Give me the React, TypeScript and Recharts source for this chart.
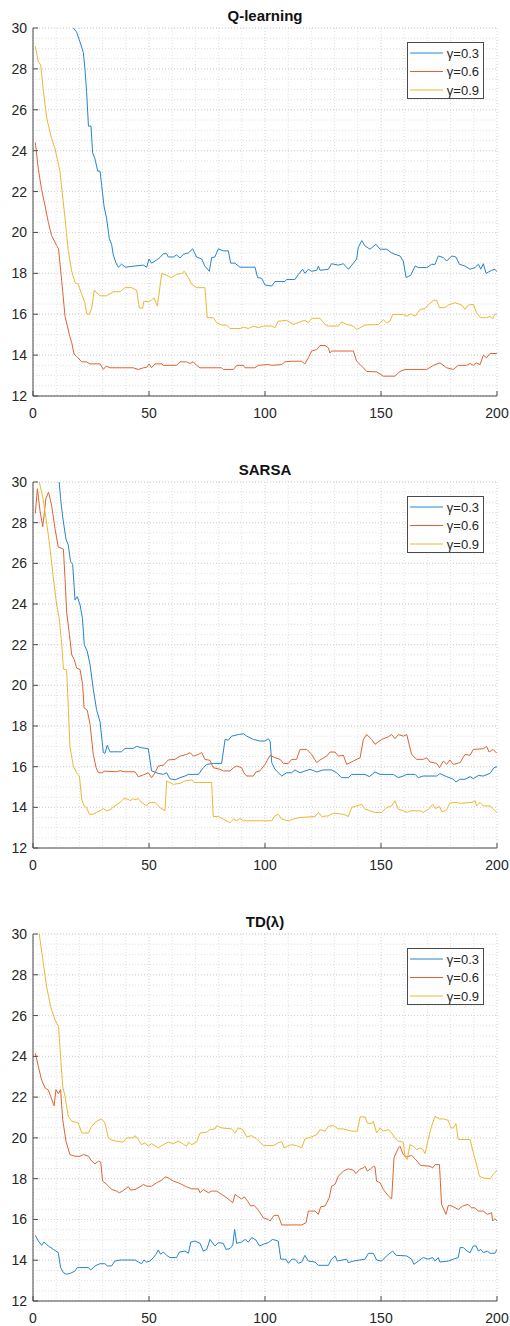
import React from 'react';
import { LineChart, Line, XAxis, YAxis, CartesianGrid } from 'recharts';

type Pt = [number, number];

// Q-learning, episode vs. steps (moving average)
const qLearning03: Pt[] = [
  [1, 33.6], [10, 31.6], [16, 30.3], [17.4, 30], [18.8, 29.8], [20.3, 29.3], [21.7, 28.8], [22.4, 28.0], [23.1, 26.9],
  [23.9, 25.2], [25, 25.2], [25.7, 23.9], [26.7, 23.6], [27.9, 23.0], [28.9, 23.0], [29.6, 22.3], [30.6, 21.3],
  [31.7, 20.7], [32.9, 19.7], [33.9, 19.4], [34.6, 18.9], [35.8, 18.5], [36.8, 18.3], [38.2, 18.45], [39.7, 18.3],
  [43.2, 18.35], [47.6, 18.4], [49, 18.3], [50, 18.7], [51.1, 18.5], [53.3, 18.65], [54.7, 18.77], [56.2, 18.96],
  [57.6, 18.96], [58.3, 18.8], [60.5, 18.8], [61.9, 18.9], [63.4, 18.75], [64.8, 18.93], [67, 19.0], [68.8, 19.2],
  [70.5, 18.8], [72.7, 18.7], [74.1, 18.35], [76, 18.1], [77, 18.77], [78.4, 18.8], [79.9, 19.2], [82, 19.1],
  [84.2, 19.1], [85.2, 18.5], [87, 18.5], [89.2, 18.3], [95.7, 18.3], [96.8, 17.8], [98.6, 17.75], [100, 17.43],
  [102.9, 17.38], [104.3, 17.6], [108.6, 17.6], [109.3, 17.7], [112.9, 17.7], [114.4, 17.95], [116.2, 18.2],
  [117.2, 18.0], [118.7, 18.2], [120.1, 18.1], [122.3, 18.15], [123, 18.35], [123.7, 18.15], [127.3, 18.2],
  [128.7, 18.47], [131.6, 18.4], [133.8, 18.47], [136, 18.2], [138.1, 18.5], [139.5, 18.7], [140.2, 19.26],
  [141.7, 19.6], [143.1, 19.34], [145.3, 19.18], [147.8, 19.42], [149.6, 19.18], [152.4, 19.18], [154.6, 19.0],
  [156, 18.93], [158.2, 18.85], [159.6, 18.6], [160.8, 17.8], [162.8, 17.9], [164.7, 18.36], [166.1, 18.28],
  [169.7, 18.28], [171.8, 18.44], [173.3, 18.44], [174.7, 18.85], [176.9, 18.77], [178.3, 18.6], [180.5, 18.85],
  [182.3, 18.8], [183.8, 18.44], [186.2, 18.36], [188.4, 18.2], [190.5, 18.28], [192, 18.44], [193, 18.2],
  [194.1, 18.47], [195.3, 18.0], [197.7, 18.15], [199.1, 18.2], [200, 18.08],
];
const qLearning06: Pt[] = [
  [1, 24.4], [2.3, 23.1], [3.7, 22.1], [5.2, 21.3], [6.6, 20.5], [8, 19.85], [10.2, 19.36], [11, 19.2], [12.4, 17.6],
  [13.8, 15.9], [15.9, 14.9], [16.7, 14.6], [17.7, 14.05], [19.1, 13.9], [21, 13.67], [23.1, 13.67], [24.6, 13.57],
  [28.9, 13.57], [30.3, 13.3], [31.5, 13.46], [33.2, 13.38], [43.2, 13.38], [45.4, 13.3], [47.6, 13.38], [49, 13.4],
  [50.1, 13.57], [51.1, 13.38], [52.6, 13.57], [55.5, 13.57], [56.2, 13.5], [61.9, 13.5], [63.4, 13.67], [66.2, 13.67],
  [67.7, 13.59], [69.1, 13.67], [70.5, 13.5], [72, 13.38], [81.3, 13.38], [82, 13.3], [86.4, 13.3], [87.8, 13.5],
  [90.7, 13.5], [91.4, 13.38], [95.7, 13.38], [97.1, 13.5], [101.4, 13.54], [102.9, 13.5], [107.2, 13.54],
  [108.6, 13.67], [111.5, 13.7], [115.8, 13.7], [117.2, 13.57], [118.7, 13.87], [120.1, 14.2], [122.3, 14.27],
  [123.7, 14.47], [125.9, 14.47], [127.3, 14.36], [128, 14.1], [128.7, 14.2], [138.1, 14.2], [139.5, 13.7],
  [141, 13.54], [142.4, 13.38], [143.8, 13.2], [148.1, 13.18], [151, 12.97], [156, 12.97], [158.2, 13.2],
  [160.3, 13.3], [169.7, 13.3], [172.6, 13.5], [175.4, 13.62], [178.3, 13.38], [181.2, 13.3], [183.3, 13.5],
  [186.9, 13.5], [188.4, 13.59], [189.8, 13.5], [191, 13.62], [192.7, 13.54], [194.1, 14.0], [195.5, 13.87],
  [197, 14.08], [200, 14.08],
];
const qLearning09: Pt[] = [
  [1, 29.1], [2.3, 28.35], [3.3, 28.2], [4.5, 26.9], [5.9, 25.6], [8, 24.6], [9.5, 24.1], [11.6, 23.0], [13.8, 20.7],
  [15.2, 19.1], [16.7, 18.1], [18.1, 17.54], [19.5, 17.46], [21, 16.97], [22.4, 16.56], [23.1, 16.02], [24.3, 15.99],
  [25.3, 16.3], [26.4, 17.17], [28.9, 16.9], [31.8, 16.9], [34.6, 17.1], [37.5, 17.1], [39.7, 17.3], [42.5, 17.3],
  [44.7, 17.17], [45.8, 16.3], [47.3, 16.3], [47.8, 16.64], [49.7, 16.6], [51.1, 16.7], [52.2, 16.8], [53.6, 16.4],
  [55.5, 18.0], [57.6, 17.9], [59.8, 17.79], [61.9, 17.95], [64.1, 18.0], [65.2, 18.1], [67, 17.79], [68.4, 17.46],
  [70.5, 17.3], [74.1, 17.3], [75.1, 15.83], [77.7, 15.83], [79.2, 15.58], [81.3, 15.47], [83.5, 15.47], [84.9, 15.3],
  [89.2, 15.3], [90.7, 15.37], [92.8, 15.3], [95, 15.42], [97.1, 15.34], [99.3, 15.42], [102.9, 15.42], [104.3, 15.34],
  [105.7, 15.66], [109.3, 15.7], [112.2, 15.5], [115.1, 15.63], [117.2, 15.7], [118.7, 15.58], [120.1, 15.8],
  [123.7, 15.8], [125.9, 15.5], [127.3, 15.42], [131.6, 15.42], [133, 15.63], [135.2, 15.5], [138.1, 15.42],
  [139.5, 15.25], [141, 15.34], [143.1, 15.47], [148.9, 15.5], [151, 15.74], [152.4, 15.58], [153.9, 15.66],
  [155, 15.99], [159.6, 15.99], [161.1, 15.9], [162.8, 16.02], [164.7, 15.9], [166.9, 16.24], [169, 16.28],
  [170.5, 16.48], [172.6, 16.68], [174, 16.68], [175.2, 16.32], [177.6, 16.32], [179, 16.45], [181.9, 16.56],
  [184.8, 16.45], [186.2, 16.24], [187.6, 16.45], [189.8, 16.48], [191.2, 16.07], [193, 15.83], [195.5, 15.83],
  [197, 15.9], [198.1, 15.78], [199.1, 16.0], [200, 16.0],
];

// SARSA
const sarsa03: Pt[] = [
  [1, 34.8], [6, 32.4], [11.3, 30], [11.9, 29.18], [12.8, 28.28], [14.2, 27.2], [15.2, 26.9], [16.2, 26.08],
  [17.1, 25.95], [18.1, 24.2], [19.1, 24.36], [20.3, 23.95], [21.3, 23.3], [22.1, 22.0], [23.4, 21.67], [24.6, 21.0],
  [26, 19.8], [27.4, 18.8], [28.9, 18.2], [30.3, 16.7], [31, 16.65], [32, 17.05], [33.2, 16.73], [38.2, 16.73],
  [39.6, 16.9], [43.2, 16.9], [44.7, 17.0], [46.8, 16.93], [49.7, 16.88], [51.1, 15.79], [54, 15.67], [56.2, 15.62],
  [57.6, 15.7], [59, 15.41], [61.2, 15.35], [63.4, 15.46], [65.5, 15.54], [67, 15.62], [71.3, 15.62], [73.4, 15.95],
  [74.9, 16.11], [77.7, 16.16], [81.3, 16.16], [82.8, 17.34], [84.2, 17.3], [85.6, 17.5], [88.5, 17.58],
  [90.7, 17.62], [92.1, 17.5], [95, 17.34], [97.8, 17.26], [100, 17.26], [101.4, 17.37], [102.2, 17.26],
  [102.9, 16.2], [104.3, 15.87], [107.2, 15.54], [109.3, 15.7], [111.5, 15.7], [112.9, 15.84], [115.1, 15.7],
  [119.4, 15.87], [122.3, 15.74], [125.1, 15.84], [128.7, 15.84], [130.9, 15.7], [133, 15.46], [135.9, 15.46],
  [137.4, 15.62], [143.1, 15.62], [145, 15.51], [147.4, 15.74], [149.6, 15.62], [155.3, 15.62], [157.5, 15.46],
  [159.6, 15.54], [161.1, 15.62], [164.7, 15.62], [166.1, 15.46], [168.2, 15.54], [174, 15.54], [175.4, 15.66],
  [178.3, 15.51], [181.2, 15.38], [182.3, 15.25], [184.1, 15.38], [186.2, 15.38], [188.4, 15.51], [189.8, 15.41],
  [192, 15.57], [194.1, 15.54], [197, 15.67], [198.7, 15.95], [200, 16.0],
];
const sarsa06: Pt[] = [
  [1, 28.45], [1.9, 29.67], [3, 28.6], [4.2, 27.8], [5.6, 29.2], [6.7, 29.5], [8, 28.86], [9.5, 27.7], [10.9, 26.8],
  [13.1, 26.7], [13.8, 25.26], [14.5, 23.6], [15.7, 22.5], [16.7, 21.5], [17.8, 21.26], [18.8, 20.85], [20.3, 20.77],
  [21.4, 20.03], [22, 18.9], [23.4, 18.77], [24.6, 18.07], [26, 16.6], [27.2, 15.95], [28.2, 15.7], [29.6, 15.7],
  [31, 15.78], [36, 15.75], [37.5, 15.8], [39.6, 15.75], [43.9, 15.75], [45.4, 15.5], [47.6, 15.6], [49.7, 15.7],
  [51.1, 15.46], [52.6, 15.7], [54, 16.03], [56.2, 16.07], [58.3, 16.33], [61.2, 16.36], [63.4, 16.52], [66.2, 16.6],
  [67.7, 16.69], [69.1, 16.52], [71.3, 16.6], [72.7, 16.69], [74.1, 16.36], [76.3, 16.31], [77.7, 15.95],
  [80.6, 15.87], [82, 15.79], [84.9, 15.79], [86.4, 15.95], [87.8, 16.03], [89.9, 15.95], [90.9, 15.7], [92.1, 15.54],
  [95, 15.54], [96.1, 15.74], [97.8, 15.79], [100, 16.11], [102.2, 16.56], [104.3, 16.44], [106.5, 16.36],
  [107.9, 16.16], [110.1, 16.16], [111.5, 16.36], [113.6, 16.36], [115.1, 16.85], [118, 16.85], [120.1, 16.6],
  [122.3, 16.2], [123.7, 16.33], [126.6, 16.52], [128, 16.72], [130.2, 16.72], [131.6, 16.52], [133.8, 16.56],
  [135.2, 16.11], [138.1, 16.28], [141, 16.44], [142.4, 17.34], [143.8, 17.58], [146, 17.34], [147.4, 17.1],
  [150.3, 17.34], [153.2, 17.47], [154.6, 17.58], [156, 17.37], [157.5, 17.58], [159.6, 17.5], [161.1, 17.58],
  [163.2, 16.6], [165.4, 16.36], [168.2, 16.36], [169.7, 16.44], [171.1, 16.23], [174, 16.16], [175.2, 15.95],
  [176.9, 16.28], [178.3, 16.11], [179.7, 16.33], [181.2, 16.11], [184.1, 16.2], [186.2, 16.6], [188.4, 16.56],
  [189.8, 16.85], [194.1, 16.88], [195.5, 17.0], [196.6, 16.72], [198.3, 16.85], [200, 16.65],
];
const sarsa09: Pt[] = [
  [1, 31.4], [2.7, 30], [4.2, 29.26], [5.6, 28.2], [7, 27.06], [8.8, 25.26], [10.2, 23.95], [11.3, 23.3], [12.4, 22.0],
  [13.1, 20.8], [14.5, 20.77], [15.2, 18.97], [15.9, 17.0], [17.4, 16.03], [18.8, 15.7], [20, 15.54], [21, 14.4],
  [22, 14.07], [23.1, 13.99], [24.3, 13.66], [26, 13.66], [27.4, 13.75], [28.9, 13.83], [30.3, 13.94], [31.8, 13.83],
  [33.2, 13.88], [35.3, 14.07], [37.5, 14.24], [39.2, 14.43], [41.1, 14.4], [41.8, 14.32], [43.2, 14.43], [44, 14.37],
  [45.4, 14.43], [46.8, 14.24], [49, 14.07], [50.1, 14.24], [52.6, 14.24], [54.7, 13.99], [56.9, 13.83], [57.6, 15.3],
  [59, 15.22], [60.5, 15.13], [63.4, 15.18], [65.5, 15.3], [68.4, 15.35], [69.8, 15.22], [77, 15.22], [77.7, 13.55],
  [79.9, 13.55], [82, 13.42], [84.9, 13.25], [86.4, 13.42], [87.8, 13.34], [89.2, 13.45], [90.7, 13.34],
  [102.9, 13.34], [104.3, 13.58], [105.7, 13.66], [107.2, 13.42], [110.1, 13.34], [112.2, 13.42], [115.1, 13.5],
  [121.6, 13.55], [123, 13.75], [124.4, 13.55], [127.3, 13.58], [129.5, 13.71], [133.8, 13.66], [135.9, 13.55],
  [137.4, 13.99], [139.5, 14.07], [141.7, 14.15], [143.1, 13.91], [145.3, 13.83], [147.4, 13.75], [150.3, 13.75],
  [152.4, 13.99], [154.6, 14.07], [156, 14.32], [157.5, 13.91], [159.6, 13.83], [161.1, 13.75], [162.8, 13.83],
  [166.9, 13.83], [168.2, 13.75], [170.5, 13.91], [172.3, 14.15], [173.4, 13.94], [175.2, 14.04], [176.3, 13.78],
  [178.3, 13.88], [179.7, 14.2], [181.9, 14.24], [184.1, 14.2], [189.2, 14.24], [190.6, 14.32], [191.2, 14.07],
  [192.7, 14.24], [194.1, 14.07], [197, 14.07], [199.1, 13.83], [200, 13.75],
];

// TD(lambda)
const td03: Pt[] = [
  [1, 15.22], [2.3, 14.94], [3.7, 14.73], [4.7, 14.89], [6.6, 14.7], [8.8, 14.53], [10.9, 14.37], [11.9, 13.64],
  [13.1, 13.39], [14.5, 13.31], [16.2, 13.36], [18.1, 13.47], [19.1, 13.64], [23.9, 13.64], [24.9, 13.52],
  [26.7, 13.72], [28.9, 13.83], [31, 13.83], [32, 13.72], [33.9, 13.72], [35.3, 13.96], [37.5, 14.01], [44, 14.01],
  [45.4, 13.91], [46.8, 13.83], [47.8, 14.01], [49, 13.91], [50.4, 13.96], [51.9, 14.13], [53, 14.29], [54, 14.5],
  [55, 14.29], [56.2, 14.4], [57.6, 14.24], [59, 14.13], [61.9, 14.13], [63.1, 14.4], [65.5, 14.45], [67, 14.34],
  [68, 14.89], [69.8, 14.94], [72, 14.83], [73.4, 14.45], [74.9, 14.53], [76.3, 15.02], [78.4, 14.7], [79.9, 14.86],
  [82, 14.83], [83.2, 14.53], [84.9, 14.57], [86.1, 14.73], [86.9, 15.51], [87.8, 14.83], [89.9, 14.89],
  [91.4, 15.02], [92.8, 14.89], [94.3, 15.11], [96.1, 14.99], [97.6, 14.7], [99.3, 14.78], [101.4, 14.86],
  [103.3, 15.02], [105.7, 14.94], [106.8, 14.05], [109, 14.05], [110.1, 13.85], [111.5, 14.05], [112.9, 14.05],
  [114.4, 13.85], [115.8, 13.91], [117.2, 14.24], [118.7, 13.96], [121.6, 13.91], [123, 13.75], [127.3, 13.75],
  [128.7, 14.05], [130.2, 14.21], [131.2, 13.96], [135.2, 14.05], [135.9, 13.88], [138.1, 13.96], [143.1, 14.05],
  [144.6, 14.34], [146.7, 14.34], [148.1, 14.01], [150.3, 13.96], [152.4, 14.21], [155, 14.45], [156.5, 14.24],
  [161.1, 14.21], [163.2, 14.05], [164.2, 13.8], [166.1, 13.96], [168.2, 14.13], [170.3, 14.05], [172.3, 14.13],
  [173.3, 13.96], [174.7, 14.13], [175.4, 13.91], [179, 13.96], [181.2, 14.05], [183.3, 14.13], [184.1, 14.62],
  [185.5, 14.62], [187, 14.45], [188.4, 14.37], [189.8, 14.7], [191, 14.7], [192, 14.45], [193, 14.53],
  [194.1, 14.37], [195.8, 14.45], [197, 14.34], [199.1, 14.34], [200, 14.53],
];
const td06: Pt[] = [
  [1, 24.15], [2.3, 23.5], [3.7, 22.84], [5.2, 22.45], [6.6, 22.35], [7.6, 22.03], [9.1, 21.58], [9.9, 22.37],
  [10.9, 22.17], [11.9, 22.37], [12.8, 20.9], [14.2, 19.84], [15.9, 19.18], [18.1, 19.1], [20.3, 19.1], [21.7, 19.18],
  [23.9, 19.1], [25.3, 18.86], [26.7, 18.73], [28.2, 18.86], [29.2, 18.81], [30, 17.88], [31.8, 17.72], [33.9, 17.47],
  [36, 17.39], [37.2, 17.31], [38.6, 17.39], [40.4, 17.55], [41.1, 17.6], [42.1, 17.44], [44, 17.47], [46.1, 17.6],
  [47.6, 17.72], [49, 17.63], [51.1, 17.63], [53.3, 17.8], [55.5, 17.93], [56.9, 18.09], [58.3, 18.04], [60.5, 17.88],
  [62.6, 17.8], [64.1, 17.72], [66.2, 17.6], [68.4, 17.5], [71.3, 17.5], [72, 17.31], [73.4, 17.47], [75.6, 17.31],
  [77, 17.39], [79.2, 17.39], [81.3, 17.23], [83.5, 17.06], [86.1, 16.82], [87.1, 17.23], [88.5, 17.11],
  [89.9, 17.01], [91.1, 17.11], [92.8, 16.85], [93.8, 16.66], [95.3, 16.69], [97.1, 16.46], [99.3, 16.08],
  [101.4, 16.0], [102.2, 15.92], [103.9, 16.2], [105.7, 16.2], [107.2, 15.73], [115.8, 15.73], [117.7, 15.84],
  [118.7, 16.41], [121.6, 16.41], [123, 16.25], [124, 16.62], [125.9, 16.66], [127.7, 17.06], [128.7, 17.63],
  [130.2, 17.72], [131.6, 18.12], [133.8, 18.37], [135.9, 18.48], [138.1, 18.42], [139.2, 18.25], [140.7, 18.45],
  [142.4, 18.53], [143.1, 18.61], [144.1, 18.37], [145.5, 18.48], [146.7, 18.61], [147.4, 18.58], [148.1, 17.88],
  [149.6, 17.8], [151, 17.47], [153.2, 17.15], [154.6, 17.01], [155.6, 19.02], [157.5, 19.51], [158.2, 19.59],
  [159.6, 19.18], [161.1, 19.07], [163.2, 19.14], [164.7, 18.97], [167.1, 18.65], [171.1, 18.61], [172.3, 18.53],
  [173.3, 18.69], [175.2, 18.69], [176.1, 16.74], [178, 16.25], [179, 16.69], [180.5, 16.66], [183.3, 16.49],
  [185.2, 16.66], [187.6, 16.74], [189, 16.57], [190.5, 16.57], [191.9, 16.41], [194.1, 16.41], [195.8, 16.25],
  [197.7, 16.33], [198.1, 15.92], [199.1, 16.04], [200, 15.92],
];
const td09: Pt[] = [
  [1, 31.4], [2.7, 30], [4.45, 28.56], [5.9, 27.4], [7.6, 26.44], [9.5, 25.78], [11, 25.46], [11.9, 23.99],
  [12.8, 22.52], [13.8, 22.04], [15.2, 21.06], [16.7, 20.82], [19.5, 20.73], [21, 20.24], [23.9, 20.24], [25.3, 20.57],
  [27.4, 20.82], [29.6, 20.93], [31, 20.73], [32.5, 20.0], [33.9, 19.89], [36, 19.84], [38.9, 19.79], [40.4, 20.0],
  [43.2, 20.0], [44, 20.11], [45.4, 19.92], [46.8, 19.67], [48.3, 19.76], [49.7, 19.59], [51.1, 19.72], [52.6, 19.62],
  [54, 19.51], [56.2, 19.67], [58.3, 19.79], [60.5, 19.72], [62.6, 19.84], [64.5, 19.72], [66.2, 19.59], [67, 19.79],
  [68.4, 19.67], [70.5, 19.79], [72, 20.24], [74.9, 20.28], [76.3, 20.41], [78.4, 20.44], [79.2, 20.6], [81.3, 20.49],
  [85.6, 20.44], [87.1, 20.24], [88.5, 20.49], [90.4, 20.41], [92.1, 20.05], [94.3, 20.11], [96.4, 19.95],
  [99.3, 19.62], [103.6, 19.62], [105.7, 19.76], [107.2, 19.82], [108.2, 19.51], [109.6, 19.59], [111.5, 19.67],
  [113.6, 19.62], [115.8, 19.51], [117.2, 19.95], [120.1, 20.05], [122.3, 20.16], [123.7, 20.41], [125.9, 20.33],
  [127.3, 20.57], [129.5, 20.6], [131.6, 20.44], [133.8, 20.44], [137.4, 20.33], [139.8, 20.33], [141, 21.03],
  [143.1, 21.03], [144.1, 20.73], [146, 20.7], [146.7, 20.82], [148.1, 20.24], [149.6, 20.49], [151, 20.33],
  [153.2, 20.41], [154.6, 20.24], [156, 20.0], [157.5, 19.84], [159.6, 19.79], [160.3, 19.1], [161.3, 18.94],
  [162.5, 19.67], [163.9, 19.59], [165.4, 19.43], [166.8, 19.51], [168, 19.43], [169, 19.23], [170.5, 20.0],
  [171.8, 20.57], [173.3, 21.06], [175.2, 20.93], [176.9, 20.93], [179, 20.86], [180.1, 20.49], [181.2, 20.49],
  [182.3, 20.7], [183.3, 19.92], [188.4, 19.92], [189.8, 19.27], [191.2, 18.7], [192.4, 18.12], [194.1, 18.04],
  [197, 17.99], [198.4, 18.21], [200, 18.42],
];

const gammaLabels = ['\u03b3=0.3', '\u03b3=0.6', '\u03b3=0.9'];
const lineColors = ['#2584cc', '#dc6533', '#eeb733'];
const xTicks = [0, 50, 100, 150, 200];
const yTicks = [12, 14, 16, 18, 20, 22, 24, 26, 28, 30];
const xMinor = [10, 20, 30, 40, 60, 70, 80, 90, 110, 120, 130, 140, 160, 170, 180, 190];
const yMinor = Array.from({ length: 37 }, (_, i) => 12 + i * 0.5);

const panels = [
  { title: 'Q-learning', plotTop: 28, plotHeight: 368, series: [qLearning03, qLearning06, qLearning09] },
  { title: 'SARSA', plotTop: 482, plotHeight: 366, series: [sarsa03, sarsa06, sarsa09] },
  { title: 'TD(\u03bb)', plotTop: 934, plotHeight: 367, series: [td03, td06, td09] },
];

const FONT = '"Liberation Sans", Arial, Helvetica, sans-serif';
const AXIS = '#4a4a4a';
const TEXT = '#262626';
const PLOT_LEFT = 33;
const PLOT_RIGHT = 497;
const TICK = 5;

const toRows = (pts: Pt[]) => pts.map(([x, y]) => ({ x, y }));

const BottomTick = (p: any) => (
  <g>
    <line x1={p.x} x2={p.x} y1={p.y} y2={p.y - TICK} stroke={AXIS} />
    <text x={p.x} y={p.y + 22} textAnchor="middle" fontSize={14} fill={TEXT} fontFamily={FONT}>
      {p.payload.value}
    </text>
  </g>
);
const TopTick = (p: any) => <line x1={p.x} x2={p.x} y1={p.y} y2={p.y + TICK} stroke={AXIS} />;
const LeftTick = (p: any) => (
  <g>
    <line x1={p.x} x2={p.x + TICK} y1={p.y} y2={p.y} stroke={AXIS} />
    <text x={p.x - 6} y={p.y} dy="0.36em" textAnchor="end" fontSize={14} fill={TEXT} fontFamily={FONT}>
      {p.payload.value}
    </text>
  </g>
);
const RightTick = (p: any) => <line x1={p.x} x2={p.x - TICK} y1={p.y} y2={p.y} stroke={AXIS} />;

const Panel = ({ panel }: { panel: (typeof panels)[number] }) => {
  const height = 28 + panel.plotHeight + 24;
  return (
    <div style={{ position: 'absolute', left: 0, top: panel.plotTop - 28 }}>
      <LineChart width={510} height={height} margin={{ top: 28, right: 510 - PLOT_RIGHT, bottom: 0, left: 0 }}>
        <CartesianGrid horizontalValues={yMinor} verticalValues={xMinor} stroke="#e0e0e0" strokeDasharray="1 2" />
        <CartesianGrid horizontalValues={yTicks} verticalValues={xTicks} stroke="#d4d4d4" strokeDasharray="1 2" />
        <XAxis
          dataKey="x"
          type="number"
          domain={[0, 200]}
          ticks={xTicks}
          interval={0}
          allowDataOverflow
          height={24}
          tickSize={0}
          tickMargin={0}
          tickLine={false}
          axisLine={{ stroke: AXIS }}
          tick={BottomTick}
        />
        <XAxis
          xAxisId="top"
          orientation="top"
          type="number"
          domain={[0, 200]}
          ticks={xTicks}
          interval={0}
          height={0}
          tickSize={0}
          tickMargin={0}
          tickLine={false}
          axisLine={{ stroke: AXIS }}
          tick={TopTick}
        />
        <YAxis
          type="number"
          domain={[12, 30]}
          ticks={yTicks}
          interval={0}
          allowDataOverflow
          width={PLOT_LEFT}
          tickSize={0}
          tickMargin={0}
          tickLine={false}
          axisLine={{ stroke: AXIS }}
          tick={LeftTick}
        />
        <YAxis
          yAxisId="right"
          orientation="right"
          type="number"
          domain={[12, 30]}
          ticks={yTicks}
          interval={0}
          width={0}
          tickSize={0}
          tickMargin={0}
          tickLine={false}
          axisLine={{ stroke: AXIS }}
          tick={RightTick}
        />
        {panel.series.map((s, i) => (
          <Line
            key={gammaLabels[i]}
            data={toRows(s)}
            dataKey="y"
            name={gammaLabels[i]}
            type="linear"
            stroke={lineColors[i]}
            strokeWidth={1}
            dot={false}
            activeDot={false}
            isAnimationActive={false}
          />
        ))}
      </LineChart>
    </div>
  );
};

export default function App() {
  return (
    <div style={{ position: 'absolute', left: 0, top: 0, width: 510, height: 1326, background: '#fff', fontFamily: FONT }}>
      {panels.map((p) => (
        <Panel key={p.title} panel={p} />
      ))}
      <svg width={510} height={1326} style={{ position: 'absolute', left: 0, top: 0, pointerEvents: 'none' }}>
        {panels.map((p) => (
          <g key={p.title}>
            <text
              x={(PLOT_LEFT + PLOT_RIGHT) / 2}
              y={p.plotTop - 7}
              textAnchor="middle"
              fontSize={15}
              fontWeight="bold"
              fill="#111"
              fontFamily={FONT}
            >
              {p.title}
            </text>
            <rect x={407.5} y={p.plotTop + 14.5} width={76} height={56} fill="#fff" stroke={AXIS} />
            {gammaLabels.map((label, i) => {
              const y = p.plotTop + 25 + i * 18.5;
              return (
                <g key={label}>
                  <line x1={410} x2={443} y1={y} y2={y} stroke={lineColors[i]} />
                  <text x={479} y={y} dy="0.36em" textAnchor="end" fontSize={13} fill={TEXT} fontFamily={FONT}>
                    {label}
                  </text>
                </g>
              );
            })}
          </g>
        ))}
      </svg>
    </div>
  );
}
